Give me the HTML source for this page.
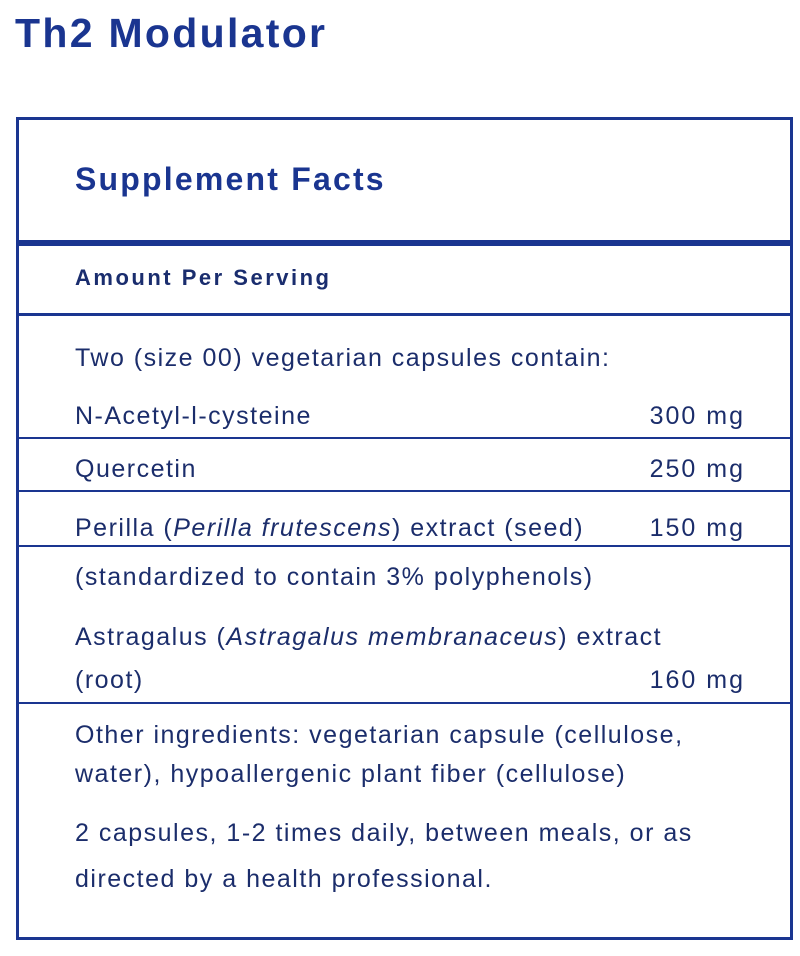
<!DOCTYPE html>
<html><head><meta charset="utf-8"><style>
html,body{margin:0;padding:0;background:#fff;width:800px;height:956px;overflow:hidden;position:relative;font-family:"Liberation Sans",sans-serif;}
.t{position:absolute;white-space:nowrap;color:#1b2d6b;font-size:25px;line-height:1;letter-spacing:1.5px;}
.r{position:absolute;right:55px;white-space:nowrap;color:#1b2d6b;font-size:25px;line-height:1;letter-spacing:2px;}
.h{position:absolute;background:#1a3590;left:16px;width:777px;}
</style></head><body>
<div class="t" style="left:15px;top:13px;font-size:41px;font-weight:bold;color:#1a3590;letter-spacing:2.3px">Th2 Modulator</div>
<div style="position:absolute;left:16px;top:117px;width:771px;height:817px;border:3px solid #1a3590"></div>
<div class="t" style="left:75px;top:163px;font-size:32px;font-weight:bold;color:#1a3590;letter-spacing:2.2px">Supplement Facts</div>
<div class="h" style="top:240px;height:6px"></div>
<div class="t" style="left:75px;top:267px;font-size:22px;font-weight:bold;color:#1a2d6e;letter-spacing:2.5px">Amount Per Serving</div>
<div class="h" style="top:313px;height:3px"></div>
<div class="t" style="left:75px;top:346px">Two (size 00) vegetarian capsules contain:</div>
<div class="t" style="left:75px;top:404px">N-Acetyl-l-cysteine</div><div class="r" style="top:404px">300 mg</div>
<div class="h" style="top:437px;height:2px"></div>
<div class="t" style="left:75px;top:457px">Quercetin</div><div class="r" style="top:457px">250 mg</div>
<div class="h" style="top:490px;height:2px"></div>
<div class="t" style="left:75px;top:516px">Perilla (<i>Perilla frutescens</i>) extract (seed)</div><div class="r" style="top:516px">150 mg</div>
<div class="h" style="top:545px;height:2px"></div>
<div class="t" style="left:75px;top:565px">(standardized to contain 3% polyphenols)</div>
<div class="t" style="left:75px;top:625px">Astragalus (<i>Astragalus membranaceus</i>) extract</div>
<div class="t" style="left:75px;top:668px">(root)</div><div class="r" style="top:668px">160 mg</div>
<div class="h" style="top:702px;height:2px"></div>
<div class="t" style="left:75px;top:723px">Other ingredients: vegetarian capsule (cellulose,</div>
<div class="t" style="left:75px;top:762px">water), hypoallergenic plant fiber (cellulose)</div>
<div class="t" style="left:75px;top:821px">2 capsules, 1-2 times daily, between meals, or as</div>
<div class="t" style="left:75px;top:867px">directed by a health professional.</div>
</body></html>
